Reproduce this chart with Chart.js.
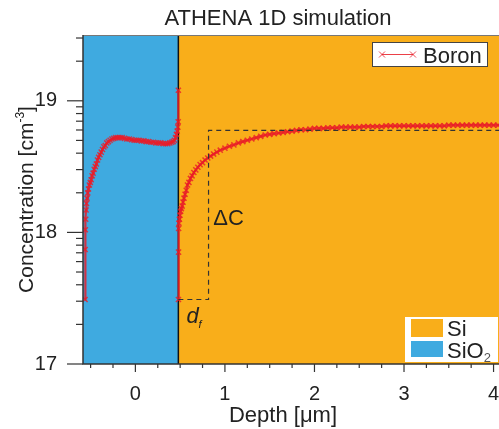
<!DOCTYPE html>
<html>
<head>
<meta charset="utf-8">
<script src="https://cdn.jsdelivr.net/npm/chart.js@4"></script>
<style>
  html, body { margin: 0; padding: 0; background: #fff; overflow: hidden; }
  #wrap { width: 499px; height: 429px; overflow: hidden; }
</style>
</head>
<body>
<div id="wrap"><canvas id="chart" width="556" height="429"></canvas></div>
<script>
// boron profile, log10 of concentration in cm^-3
const oxideDepth = [
  -0.562, -0.561, -0.559, -0.555, -0.551, -0.546, -0.540, -0.532, -0.524, -0.514,
  -0.504, -0.494, -0.483, -0.472, -0.460, -0.448, -0.436, -0.423, -0.410, -0.396,
  -0.382, -0.367, -0.352, -0.336, -0.319, -0.301, -0.282, -0.262, -0.241, -0.219,
  -0.196, -0.172, -0.147, -0.121, -0.095, -0.068, -0.041, -0.014, 0.013, 0.040,
  0.067, 0.094, 0.121, 0.148, 0.175, 0.202, 0.229, 0.256, 0.283, 0.310,
  0.337, 0.362, 0.385, 0.405, 0.422, 0.437, 0.449, 0.459, 0.467, 0.474,
  0.478, 0.480
];
const oxideBoron = [
  17.49, 17.87, 18.02, 18.10, 18.17, 18.22, 18.26, 18.30, 18.33, 18.36,
  18.38, 18.40, 18.43, 18.45, 18.48, 18.50, 18.52, 18.55, 18.57, 18.59,
  18.61, 18.63, 18.65, 18.66, 18.68, 18.69, 18.70, 18.71, 18.715, 18.72,
  18.72, 18.72, 18.72, 18.715, 18.71, 18.71, 18.705, 18.70, 18.70, 18.70,
  18.695, 18.695, 18.69, 18.69, 18.685, 18.685, 18.68, 18.68, 18.68, 18.675,
  18.675, 18.675, 18.68, 18.685, 18.69, 18.70, 18.72, 18.745, 18.77, 18.80,
  18.84, 19.08
];
const siDepth = [
  0.481, 0.482, 0.483, 0.487, 0.492, 0.498, 0.505, 0.513, 0.522, 0.532,
  0.543, 0.555, 0.568, 0.582, 0.598, 0.615, 0.633, 0.653, 0.675, 0.698,
  0.723, 0.750, 0.778, 0.808, 0.840, 0.874, 0.910, 0.948,
  1.00, 1.05, 1.10, 1.15, 1.20, 1.25, 1.30, 1.35, 1.40, 1.45,
  1.50, 1.55, 1.60, 1.65, 1.70, 1.75, 1.80, 1.85, 1.90, 1.95,
  2.00, 2.05, 2.10, 2.15, 2.20, 2.25, 2.30, 2.35, 2.40, 2.45,
  2.50, 2.55, 2.60, 2.65, 2.70, 2.75, 2.80, 2.85, 2.90, 2.95,
  3.00, 3.05, 3.10, 3.15, 3.20, 3.25, 3.30, 3.35, 3.40, 3.45,
  3.50, 3.55, 3.60, 3.65, 3.70, 3.75, 3.80, 3.85, 3.90, 3.95,
  4.00, 4.05, 4.10, 4.15, 4.20, 4.25, 4.30, 4.35, 4.40, 4.45,
  4.50, 4.55, 4.60, 4.65, 4.70
];
const siBoron = [
  17.49, 17.85, 18.03, 18.07, 18.10, 18.13, 18.16, 18.18, 18.20, 18.23,
  18.26, 18.29, 18.32, 18.36, 18.38, 18.41, 18.43, 18.455, 18.475, 18.495,
  18.515, 18.53, 18.55, 18.565, 18.58, 18.595, 18.61, 18.625,
  18.64, 18.655, 18.665, 18.68, 18.69, 18.70, 18.71, 18.72, 18.73, 18.74,
  18.745, 18.75, 18.755, 18.76, 18.765, 18.77, 18.775, 18.78, 18.78, 18.785,
  18.79, 18.79, 18.79, 18.795, 18.795, 18.795, 18.80, 18.80, 18.80, 18.80,
  18.80, 18.805, 18.805, 18.805, 18.805, 18.805, 18.81, 18.81, 18.81, 18.81,
  18.81, 18.81, 18.81, 18.81, 18.81, 18.81, 18.81, 18.81, 18.81, 18.81,
  18.815, 18.815, 18.815, 18.815, 18.815, 18.815, 18.815, 18.815, 18.815, 18.815,
  18.815, 18.815, 18.815, 18.815, 18.815, 18.815, 18.815, 18.815, 18.815, 18.815,
  18.815, 18.815, 18.815, 18.815, 18.815
];

// dashed guide marking d_f and delta C
const guideDepth = [0.48, 0.817, 0.817, 4.8];
const guideConc = [17.49, 17.49, 18.775, 18.775];

// material layers
const layerNames = ['SiO2', 'Si'];
const layerFrom = [-0.7, 0.48];
const layerTo = [0.48, 5.0];

const depthTicks = [0, 1, 2, 3, 4];
const depthTickLabels = ['0', '1', '2', '3', '4'];
const concTicks = [17, 18, 19];
const concTickLabels = ['17', '18', '19'];

const FONT = "'Liberation Sans', Arial, sans-serif";
const INK = '#222';
const layerColors = { SiO2: '#3FAAE0', Si: '#F9AE1A' };
const BORON_LINE = 'rgba(232, 30, 40, 0.85)';
const BORON_MARK = 'rgba(234, 28, 40, 0.8)';

const toPoints = (xs, ys) => xs.map((x, i) => ({ x: x, y: ys[i] }));

// minor ticks: quarter microns, and 2..9 inside each decade
const depthMinor = [];
for (let v = -0.5; v <= 4.5; v += 0.25) depthMinor.push(v);
const concMinor = [];
concTicks.forEach(n => {
  for (let k = 2; k <= 9; k++) {
    const v = n + Math.log10(k);
    if (v < 19.5) concMinor.push(v);
  }
});

function crossAt(ctx, x, y, r) {
  ctx.beginPath();
  ctx.moveTo(x - r, y - r); ctx.lineTo(x + r, y + r);
  ctx.moveTo(x - r, y + r); ctx.lineTo(x + r, y - r);
  ctx.stroke();
}

const layerPlugin = {
  id: 'layers',
  beforeDatasetsDraw(chart) {
    const { ctx, chartArea: a, scales: { x } } = chart;
    ctx.save();
    layerNames.forEach((name, i) => {
      const x0 = Math.max(x.getPixelForValue(layerFrom[i]), a.left);
      const x1 = Math.min(x.getPixelForValue(layerTo[i]), a.right);
      ctx.fillStyle = layerColors[name];
      ctx.fillRect(x0, a.top, x1 - x0, a.bottom - a.top);
    });
    const xi = x.getPixelForValue(layerTo[0]);
    ctx.strokeStyle = '#111';
    ctx.lineWidth = 1.5;
    ctx.beginPath();
    ctx.moveTo(xi, a.top);
    ctx.lineTo(xi, a.bottom);
    ctx.stroke();
    ctx.restore();
  },
  afterDraw(chart) {
    const { ctx, chartArea: a, scales: { x, y } } = chart;
    ctx.save();

    // frame
    ctx.strokeStyle = '#777';
    ctx.lineWidth = 1;
    ctx.beginPath();
    ctx.moveTo(a.left, a.top + 0.5);
    ctx.lineTo(a.right, a.top + 0.5);
    ctx.stroke();
    ctx.strokeStyle = '#333';
    ctx.lineWidth = 1.5;
    ctx.beginPath();
    ctx.moveTo(a.left, a.top);
    ctx.lineTo(a.left, a.bottom);
    ctx.lineTo(a.right, a.bottom);
    ctx.stroke();

    // tick marks
    ctx.lineWidth = 1.2;
    x.ticks.forEach(t => {
      const px = x.getPixelForValue(t.value);
      const len = depthTicks.includes(t.value) ? 8 : 4;
      ctx.beginPath();
      ctx.moveTo(px, a.bottom);
      ctx.lineTo(px, a.bottom + len);
      ctx.stroke();
    });
    y.ticks.forEach(t => {
      const py = y.getPixelForValue(t.value);
      const len = concTicks.includes(t.value) ? 16 : 7;
      ctx.beginPath();
      ctx.moveTo(a.left - len, py);
      ctx.lineTo(a.left, py);
      ctx.stroke();
    });

    // axis titles
    ctx.fillStyle = INK;
    ctx.textBaseline = 'alphabetic';
    ctx.textAlign = 'center';
    ctx.font = '22px ' + FONT;
    ctx.fillText('Depth [\u03bcm]', 283, 421.5);

    ctx.save();
    ctx.translate(32.5, (a.top + a.bottom) / 2);
    ctx.rotate(-Math.PI / 2);
    ctx.textAlign = 'left';
    const big = '21px ' + FONT, small = '12px ' + FONT;
    ctx.font = big;
    const w1 = ctx.measureText('Concentration [cm').width;
    const w3 = ctx.measureText(']').width;
    ctx.font = small;
    const w2 = ctx.measureText('-3').width;
    let sx = -(w1 + w2 + w3) / 2;
    ctx.font = big;
    ctx.fillText('Concentration [cm', sx, 0);
    sx += w1;
    ctx.font = small;
    ctx.fillText('-3', sx, -9);
    sx += w2;
    ctx.font = big;
    ctx.fillText(']', sx, 0);
    ctx.restore();

    // annotations
    ctx.textAlign = 'left';
    ctx.font = '22px ' + FONT;
    ctx.fillText('\u0394C', x.getPixelForValue(0.87), y.getPixelForValue(18.06));
    ctx.font = 'italic 22px ' + FONT;
    ctx.fillText('d', x.getPixelForValue(0.572), y.getPixelForValue(17.31));
    ctx.font = 'italic 11px ' + FONT;
    ctx.fillText('f', x.getPixelForValue(0.705), y.getPixelForValue(17.27));

    // Boron legend
    ctx.fillStyle = '#fff';
    ctx.fillRect(372.5, 42.5, 115, 24);
    ctx.strokeStyle = '#444';
    ctx.lineWidth = 1;
    ctx.strokeRect(372.5, 42.5, 115, 24);
    ctx.strokeStyle = BORON_LINE;
    ctx.beginPath();
    ctx.moveTo(382, 54.5);
    ctx.lineTo(413, 54.5);
    ctx.stroke();
    ctx.strokeStyle = BORON_MARK;
    crossAt(ctx, 382, 54.5, 3);
    crossAt(ctx, 413, 54.5, 3);
    ctx.fillStyle = INK;
    ctx.font = '22px ' + FONT;
    ctx.fillText('Boron', 423, 62.5);

    // layer legend
    ctx.fillStyle = '#fff';
    ctx.fillRect(405, 317, 93, 45);
    ctx.fillStyle = layerColors.Si;
    ctx.fillRect(411, 319, 32, 18);
    ctx.fillStyle = layerColors.SiO2;
    ctx.fillRect(411, 341, 32, 16);
    ctx.fillStyle = INK;
    ctx.font = '22px ' + FONT;
    ctx.fillText('Si', 447, 336);
    ctx.fillText('SiO', 447, 357.5);
    const wSiO = ctx.measureText('SiO').width;
    ctx.font = '13px ' + FONT;
    ctx.fillStyle = '#555';
    ctx.fillText('2', 447 + wSiO, 362);

    ctx.restore();
  }
};

const boronStyle = {
  borderColor: BORON_LINE,
  borderWidth: 2.2,
  pointStyle: 'crossRot',
  pointRadius: 3.6,
  pointBorderWidth: 1.5,
  pointBorderColor: BORON_MARK,
  pointBackgroundColor: BORON_MARK,
  tension: 0,
  order: 1
};

new Chart(document.getElementById('chart'), {
  type: 'line',
  data: {
    datasets: [
      {
        label: 'guide',
        data: toPoints(guideDepth, guideConc),
        borderColor: '#333',
        borderWidth: 1.2,
        borderDash: [5, 4],
        pointRadius: 0,
        order: 0
      },
      Object.assign({ label: 'Boron', data: toPoints(oxideDepth, oxideBoron) }, boronStyle),
      Object.assign({ label: 'Boron Si', data: toPoints(siDepth, siBoron) }, boronStyle)
    ]
  },
  options: {
    responsive: false,
    animation: false,
    devicePixelRatio: 1,
    layout: { padding: 0 },
    plugins: {
      legend: { display: false },
      tooltip: { enabled: false },
      title: {
        display: true,
        text: 'ATHENA 1D simulation',
        color: INK,
        font: { family: FONT, size: 22, weight: 'normal' },
        padding: { top: 6, bottom: 2.6 }
      }
    },
    scales: {
      x: {
        type: 'linear',
        min: -0.585,
        max: 4.636,
        grid: { display: false },
        border: { display: false },
        ticks: {
          autoSkip: false,
          maxRotation: 0,
          padding: 10,
          color: INK,
          font: { family: FONT, size: 20 },
          callback: v => {
            const i = depthTicks.indexOf(v);
            return i >= 0 ? depthTickLabels[i] : '';
          }
        },
        afterBuildTicks: s => { s.ticks = depthMinor.map(v => ({ value: v })); },
        afterFit: s => { s.height = 65; }
      },
      y: {
        type: 'linear',
        min: 17,
        max: 19.5,
        grid: { display: false },
        border: { display: false },
        ticks: {
          autoSkip: false,
          padding: 18,
          color: INK,
          font: { family: FONT, size: 20 },
          callback: v => {
            const i = concTicks.indexOf(v);
            return i >= 0 ? concTickLabels[i] : '';
          }
        },
        afterBuildTicks: s => {
          s.ticks = concTicks.concat(concMinor).sort((p, q) => p - q).map(v => ({ value: v }));
        },
        afterFit: s => { s.width = 83; }
      }
    }
  },
  plugins: [layerPlugin]
});
</script>
</body>
</html>
